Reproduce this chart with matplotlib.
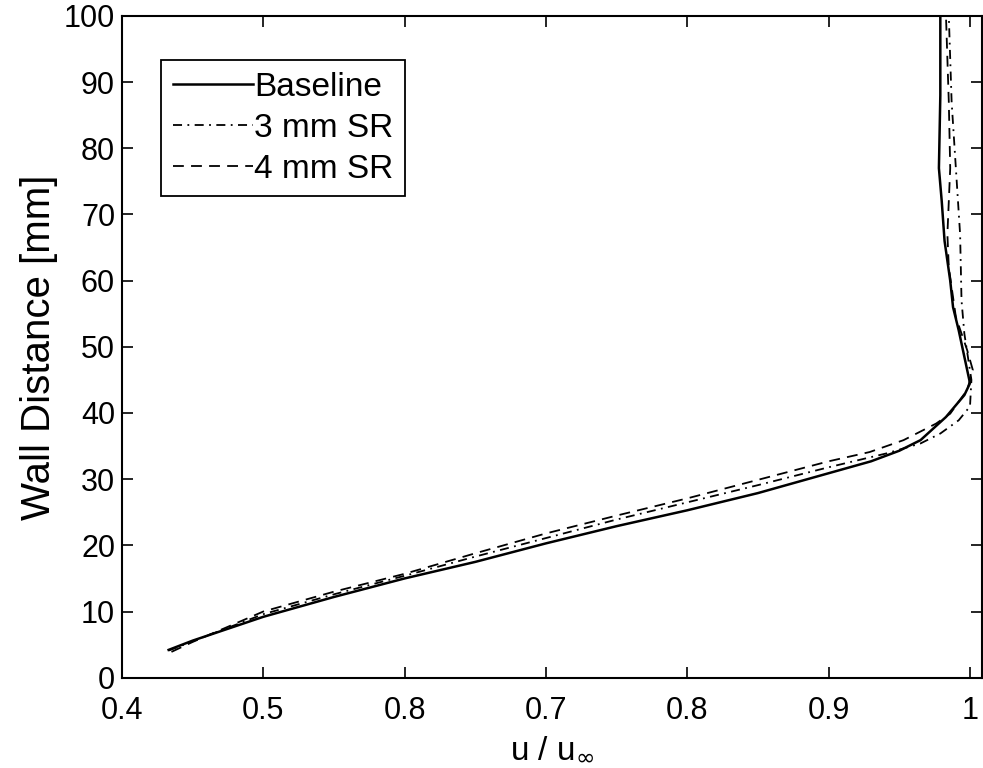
import numpy as np
import matplotlib
matplotlib.use('Agg')
import matplotlib.pyplot as plt

plt.rcParams['font.family'] = ['Liberation Sans', 'DejaVu Sans']

# Velocity profiles (u/u_inf vs wall distance in mm)
base_u = [0.433, 0.45, 0.5, 0.55, 0.6, 0.65, 0.7, 0.75, 0.8, 0.85, 0.9, 0.93,
          0.95, 0.965, 0.983, 0.996, 1.000, 0.997, 0.992, 0.988, 0.986, 0.982,
          0.980, 0.978, 0.979, 0.979]
base_y = [4.2, 5.6, 9.2, 12.2, 15.0, 17.5, 20.3, 22.9, 25.3, 27.9, 30.9, 32.7,
          34.3, 35.9, 39.4, 42.7, 44.5, 47.5, 52.5, 56.0, 60.0, 66.0,
          72.0, 77.0, 88.0, 100.0]

sr3_u = [0.433, 0.45, 0.5, 0.55, 0.6, 0.65, 0.7, 0.75, 0.8, 0.85, 0.9, 0.941,
         0.965, 0.979, 0.992, 1.000, 1.001, 0.996, 0.994, 0.993, 0.990, 0.987,
         0.985]
sr3_y = [4.1, 5.5, 9.6, 12.6, 15.4, 18.3, 21.1, 23.9, 26.5, 29.1, 31.8, 33.9,
         35.4, 36.9, 38.9, 41.0, 45.0, 52.0, 57.0, 67.0, 77.0, 87.0,
         100.0]

sr4_u = [0.435, 0.45, 0.5, 0.55, 0.6, 0.65, 0.7, 0.75, 0.8, 0.85, 0.9, 0.929,
         0.953, 0.976, 0.986, 0.998, 1.002, 0.998, 0.990, 0.985, 0.984, 0.986,
         0.985, 0.983]
sr4_y = [3.9, 5.4, 10.0, 13.0, 15.7, 18.8, 21.8, 24.5, 27.1, 29.9, 32.7, 34.1,
         35.9, 38.4, 39.9, 43.5, 46.5, 49.5, 54.5, 62.0, 67.0, 77.0,
         87.0, 100.0]

xticks = [0.4, 0.5, 0.6, 0.7, 0.8, 0.9, 1.0]
xtick_labels = ['0.4', '0.5', '0.8', '0.7', '0.8', '0.9', '1']
yticks = np.arange(0, 101, 10)

fig = plt.figure(figsize=(9.83, 7.68), dpi=100)
ax = fig.add_axes([0.1241, 0.1176, 0.8749, 0.8616])

ax.plot(base_u, base_y, color='black', lw=1.8, ls='-', label='Baseline')
ax.plot(sr3_u, sr3_y, color='black', lw=1.3, ls=(0, (5, 3, 1, 3)), label='3 mm SR')
ax.plot(sr4_u, sr4_y, color='black', lw=1.3, ls=(0, (6, 4)), label='4 mm SR')

ax.set_xlim(0.4, 1.0085)
ax.set_ylim(0, 100)
ax.set_xticks(xticks)
ax.set_xticklabels(xtick_labels)
ax.set_yticks(yticks)
ax.tick_params(direction='in', length=8, width=1.2, top=True, right=True,
               labelsize=22)
ax.tick_params(axis='x', pad=13)
ax.tick_params(axis='y', pad=5)
for s in ax.spines.values():
    s.set_linewidth(1.5)

ax.set_xlabel('u / u$_\\infty$', fontsize=24, labelpad=6)
ax.set_ylabel('Wall Distance [mm]', fontsize=29, labelpad=4)

leg = ax.legend(loc='upper left', bbox_to_anchor=(0.0453, 0.9335),
                borderaxespad=0, fontsize=24, fancybox=False,
                edgecolor='black', framealpha=1, handlelength=2.4,
                handletextpad=0.05, labelspacing=0.3, borderpad=0.35)
leg.get_frame().set_linewidth(1.3)

plt.savefig('out.png', dpi=100)
